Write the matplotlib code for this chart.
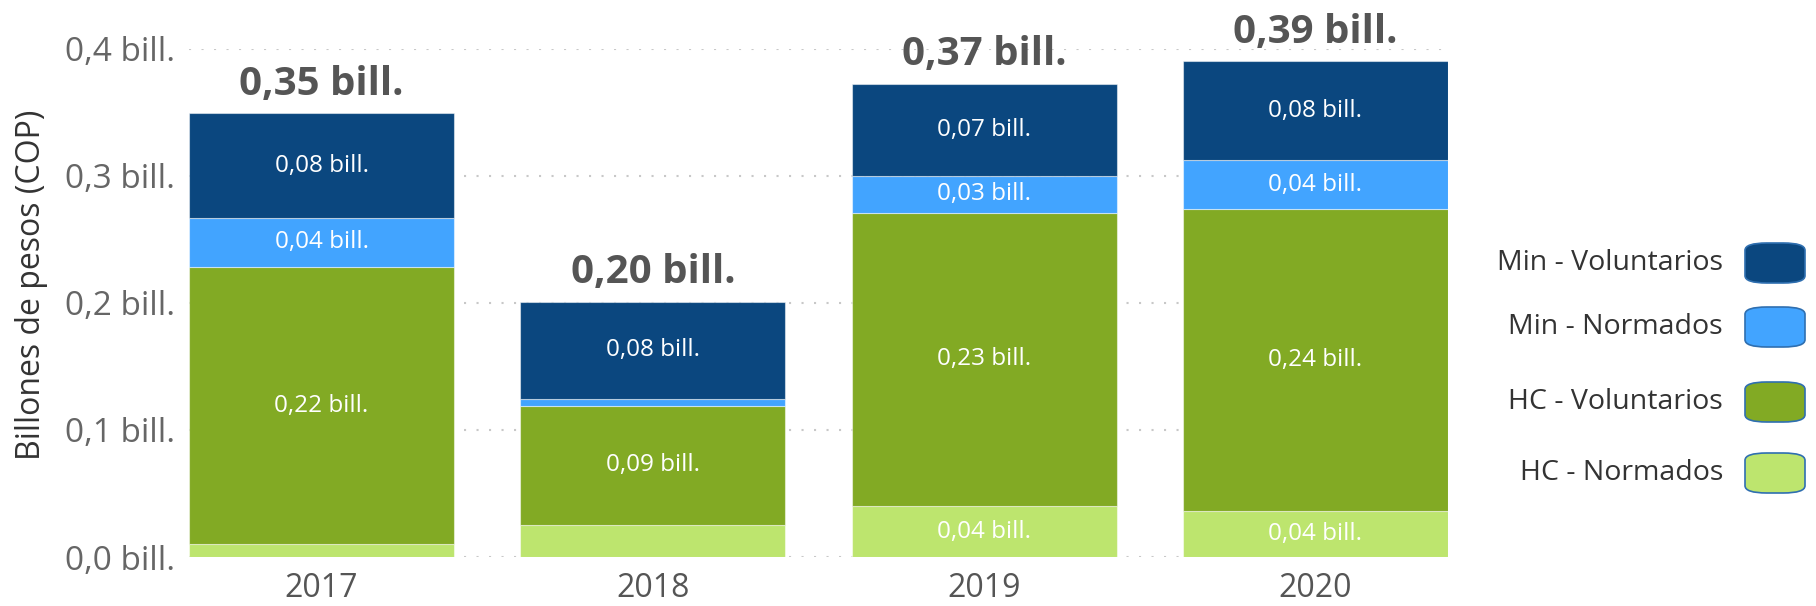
import matplotlib.pyplot as plt
from matplotlib.patches import FancyBboxPatch
import numpy as np

plt.rcParams['font.family'] = ['Open Sans', 'DejaVu Sans']

years = ['2017', '2018', '2019', '2020']
series = ['HC - Normados', 'HC - Voluntarios', 'Min - Normados', 'Min - Voluntarios']
hc_norm = [0.010, 0.025, 0.040, 0.036]
hc_vol = [0.218, 0.094, 0.231, 0.238]
min_norm = [0.039, 0.005, 0.029, 0.038]
min_vol = [0.082, 0.077, 0.072, 0.078]
colors = ['#BDE56E', '#82AA24', '#42A4FF', '#0B477F']

values = [hc_norm, hc_vol, min_norm, min_vol]

def fmt(v):
    return f"{v:.2f}".replace('.', ',') + ' bill.'

fig = plt.figure(figsize=(18.16, 6.06), dpi=100)
ax = fig.add_axes([189/1816, 1-557/606, (1448-189)/1816, (557-48.6)/606])

x = np.arange(len(years))
bottom = np.zeros(len(years))
for name, vals, c in zip(series, values, colors):
    vals = np.array(vals)
    ax.bar(x, vals, 0.8, bottom=bottom, color=c, edgecolor=(1, 1, 1, 0.5),
           linewidth=0.8, label=name, zorder=2)
    for xi, b, v in zip(x, bottom, vals):
        if v >= 0.028:  # small segments have no label
            ax.text(xi, b + v/2, fmt(v), ha='center', va='center', color='white',
                    fontsize=17.5, zorder=3)
    bottom += vals

for xi, t in zip(x, bottom):
    ax.annotate(fmt(t), (xi, t), xytext=(0, 7), textcoords='offset points',
                ha='center', va='bottom', fontsize=29, fontweight='bold',
                color='#555555', annotation_clip=False)

ax.set_xlim(-0.4, 3.4)
ax.set_ylim(0, 0.4)
ax.set_yticks([0, 0.1, 0.2, 0.3, 0.4])
ax.set_yticklabels([f"{v:.1f}".replace('.', ',') + ' bill.' for v in [0, 0.1, 0.2, 0.3, 0.4]])
ax.set_xticks(x)
ax.set_xticklabels(years)
ax.tick_params(axis='y', length=0, labelsize=24, labelcolor='#666666', pad=10)
ax.tick_params(axis='x', length=0, labelsize=23, labelcolor='#555555', pad=11)
ax.grid(axis='y', color='#c8c8c8', linestyle=(0, (1, 5)), linewidth=1.5, zorder=0)
for s in ax.spines.values():
    s.set_visible(False)
ax.set_ylabel('Billones de pesos (COP)', fontsize=23, color='#333333')
ax.yaxis.set_label_coords(-0.112, 0.535)

# legend on the right, text first then rounded swatch
row_y = [263, 327, 402, 473]
W, H = 1816, 606
for name, c, ry in zip(series[::-1], colors[::-1], row_y):
    fig.text(1723/W, 1-ry/H, name, ha='right', va='center', fontsize=20.5, color='#333333')
    box = FancyBboxPatch((1745/W, 1-(ry+20)/H), 60/W, 40/H,
                         boxstyle='round,pad=0,rounding_size=0.012',
                         transform=fig.transFigure, facecolor=c,
                         edgecolor='#2f6fb0', linewidth=1.2, mutation_aspect=H/W*3)
    fig.patches.append(box)

fig.savefig('out.png', dpi=100)
